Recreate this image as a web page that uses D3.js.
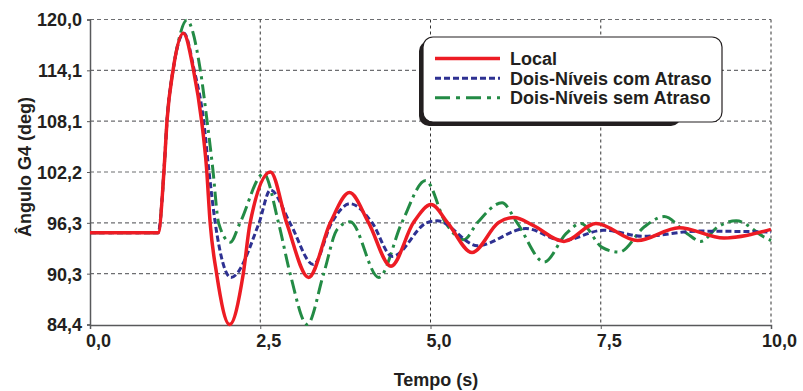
<!DOCTYPE html>
<html>
<head>
<meta charset="utf-8">
<script src="https://cdn.jsdelivr.net/npm/d3@7"></script>
<style>
  html, body { margin: 0; padding: 0; background: #fff; }
  svg { display: block; font-family: "Liberation Sans", Arial, Helvetica, sans-serif; font-weight: bold; }
</style>
</head>
<body>
<svg id="chart" width="803" height="391"></svg>
<script>
// ---- Data ----
const seriesNames = ["Local", "Dois-Níveis com Atraso", "Dois-Níveis sem Atraso"];

const localT = [0, 1.0, 1.09, 1.13, 1.22, 1.37, 1.52, 1.64, 1.71, 1.765, 1.86, 2.05, 2.25, 2.35, 2.65, 2.89, 3.21, 3.53, 3.81, 4.09, 4.42, 4.75, 5.01, 5.25, 5.61, 6.0, 6.23, 6.5, 6.96, 7.43, 8.04, 8.65, 9.31, 10.0];
const localV = [95.1, 95.1, 102.8, 108.1, 114.1, 118.4, 114.1, 108.1, 102.8, 96.2, 90.3, 84.4, 90.3, 96.2, 102.2, 96.2, 89.9, 96.3, 99.8, 96.3, 91.2, 96.3, 98.4, 96.3, 92.8, 96.3, 96.9, 96.0, 94.1, 96.2, 94.2, 95.7, 94.5, 95.5];

const comT = [0, 1.0, 1.09, 1.13, 1.22, 1.38, 1.53, 1.67, 1.74, 1.84, 2.07, 2.48, 2.65, 2.94, 3.28, 3.55, 3.82, 4.14, 4.44, 4.95, 5.1, 5.69, 6.4, 6.94, 7.54, 8.13, 8.93, 10.0];
const comV = [95.1, 95.1, 102.8, 108.1, 114.1, 118.4, 114.1, 108.1, 102.8, 96.2, 89.9, 96.2, 100.1, 96.2, 91.4, 96.3, 98.5, 96.3, 92.35, 96.3, 96.5, 93.6, 95.6, 94.2, 95.4, 94.7, 95.3, 95.2];

const semT = [0, 1.0, 1.09, 1.13, 1.22, 1.30, 1.42, 1.62, 1.72, 1.80, 1.89, 2.06, 2.2, 2.55, 2.77, 2.94, 3.19, 3.43, 3.63, 3.82, 4.24, 4.58, 4.93, 5.22, 5.49, 5.69, 6.05, 6.27, 6.67, 6.99, 7.21, 7.52, 7.77, 8.14, 8.43, 8.77, 8.97, 9.22, 9.49, 9.9, 10.0];
const semV = [95.1, 95.1, 102.8, 108.1, 114.1, 117.5, 119.9, 114.1, 108.1, 102.8, 96.2, 94.0, 96.2, 102.0, 96.2, 90.3, 84.4, 90.3, 95.5, 96.4, 89.9, 96.3, 101.2, 96.3, 94.3, 96.3, 98.6, 96.3, 91.7, 95.0, 96.2, 93.4, 92.85, 95.8, 97.0, 95.0, 94.1, 95.8, 96.5, 94.6, 94.2];

const xTicks = [0, 2.5, 5, 7.5, 10];
const xTickLabels = ["0,0", "2,5", "5,0", "7,5", "10,0"];
const yTicks = [84.4, 90.333, 96.267, 102.2, 108.133, 114.067, 120.0];
const yTickLabels = ["84,4", "90,3", "96,3", "102,2", "108,1", "114,1", "120,0"];

const xTitle = "Tempo (s)";
const yTitle = "Ângulo G4 (deg)";

// ---- Layout ----
const svg = d3.select("#chart");
const x = d3.scaleLinear().domain([0, 10]).range([90, 771]);
const y = d3.scaleLinear().domain([84.4, 120]).range([324.5, 19.5]);
const textColor = "#231f20";

// horizontal grid
svg.append("g").selectAll("line")
  .data(yTicks.slice(1))
  .join("line")
  .attr("x1", x(0)).attr("x2", x(10))
  .attr("y1", d => y(d)).attr("y2", d => y(d))
  .attr("stroke", "#6d6e71").attr("stroke-width", 1.2)
  .attr("stroke-dasharray", "4,3");

// vertical grid
svg.append("g").selectAll("line")
  .data(xTicks.slice(1))
  .join("line")
  .attr("x1", d => x(d)).attr("x2", d => x(d))
  .attr("y1", y(120)).attr("y2", y(84.4))
  .attr("stroke", "#333").attr("stroke-width", 1)
  .attr("stroke-dasharray", "3,3");

// axes
const xAxis = d3.axisBottom(x).tickValues(xTicks).tickSize(4).tickFormat((d, i) => xTickLabels[i]);
const gx = svg.append("g").attr("transform", "translate(0,325)").call(xAxis);
gx.select(".domain").attr("stroke", "#58595b").attr("stroke-width", 1.5);
gx.selectAll(".tick line").attr("stroke", "#58595b");
gx.selectAll(".tick text")
  .attr("fill", textColor).attr("font-size", 18).attr("font-weight", "bold")
  .attr("font-family", "Liberation Sans, Arial, sans-serif")
  .attr("dx", 8).attr("y", 9).attr("dy", "0.71em");

const yAxis = d3.axisLeft(y).tickValues(yTicks).tickSize(3).tickFormat((d, i) => yTickLabels[i]);
const gy = svg.append("g").attr("transform", "translate(90,0)").call(yAxis);
gy.select(".domain").attr("stroke", "#58595b").attr("stroke-width", 1.5);
gy.selectAll(".tick line").attr("stroke", "#58595b");
gy.selectAll(".tick text")
  .attr("fill", textColor).attr("font-size", 18).attr("font-weight", "bold")
  .attr("font-family", "Liberation Sans, Arial, sans-serif")
  .attr("x", -8).attr("dy", "0.36em");

// titles
svg.append("text").text(xTitle)
  .attr("x", 436).attr("y", 386).attr("text-anchor", "middle")
  .attr("font-size", 18).attr("fill", textColor);
svg.append("text").text(yTitle)
  .attr("transform", "translate(31,167) rotate(-90)")
  .attr("text-anchor", "middle")
  .attr("font-size", 18).attr("fill", textColor);

// lines
const line = d3.line().x(d => x(d[0])).y(d => y(d[1])).curve(d3.curveMonotoneX);
const zip = (t, v) => t.map((d, i) => [d, v[i]]);
const styles = [
  { color: "#ed1c24", width: 3.5, dash: null },
  { color: "#2e3192", width: 3, dash: "6,3" },
  { color: "#238b45", width: 3, dash: "14,5,3,5" }
];
const seriesData = [zip(localT, localV), zip(comT, comV), zip(semT, semV)];

const lines = svg.append("g").attr("fill", "none");
[2, 1, 0].forEach(i => {
  lines.append("path")
    .attr("d", line(seriesData[i]))
    .attr("stroke", styles[i].color)
    .attr("stroke-width", styles[i].width)
    .attr("stroke-dasharray", styles[i].dash)
    .attr("stroke-linejoin", "round");
});

// legend
const lg = svg.append("g");
lg.append("rect").attr("x", 419).attr("y", 41).attr("width", 262).attr("height", 85)
  .attr("rx", 10).attr("fill", "#231f20");
lg.append("rect").attr("x", 423).attr("y", 37).attr("width", 299).attr("height", 85)
  .attr("rx", 10).attr("fill", "#fff").attr("stroke", "#231f20").attr("stroke-width", 1.2);
const rowY = [58.5, 78.3, 97.7];
seriesNames.forEach((name, i) => {
  lg.append("line").attr("x1", 435).attr("x2", 500).attr("y1", rowY[i]).attr("y2", rowY[i])
    .attr("stroke", styles[i].color).attr("stroke-width", styles[i].width)
    .attr("stroke-dasharray", i === 2 ? "15,6,4,6" : styles[i].dash);
  lg.append("text").text(name).attr("x", 510).attr("y", rowY[i] + 6.5)
    .attr("font-size", 18).attr("fill", textColor);
});
</script>
</body>
</html>
